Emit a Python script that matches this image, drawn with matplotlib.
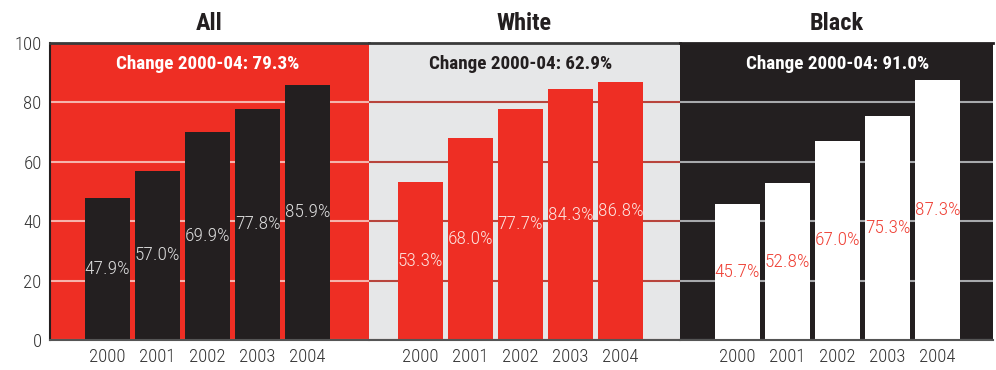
import os
import matplotlib
matplotlib.use("Agg")
import matplotlib.pyplot as plt
from matplotlib import font_manager as fm

years = ["2000", "2001", "2002", "2003", "2004"]
groups = ["All", "White", "Black"]
all_vals = [47.9, 57.0, 69.9, 77.8, 85.9]
white_vals = [53.3, 68.0, 77.7, 84.3, 86.8]
black_vals = [45.7, 52.8, 67.0, 75.3, 87.3]
changes = ["Change 2000-04: 79.3%", "Change 2000-04: 62.9%", "Change 2000-04: 91.0%"]

# look for a narrow / condensed font on the machine
files = [f.fname for f in fm.fontManager.ttflist]
reg = bold = light = None
for key in ["RobotoCondensed", "LiberationSansNarrow", "DejaVuSansCondensed",
            "OpenSansCondensed", "Condensed", "Narrow"]:
    hits = [p for p in files if key.lower() in os.path.basename(p).lower()
            and "italic" not in p.lower() and "oblique" not in p.lower()]
    names = [(p, os.path.basename(p).lower()) for p in hits]
    r = [p for p, n in names if "bold" not in n and "light" not in n]
    b = [p for p, n in names if n.split("-")[-1].startswith("bold")
         or "condensedbold" in n.replace("-", "") or "narrow-bold" in n]
    lt = [p for p, n in names if n.split("-")[-1].startswith("light")]
    if r:
        reg = r[0]
        bold = b[0] if b else r[0]
        light = lt[0] if lt else r[0]
        break

if reg:
    fp = fm.FontProperties(fname=light)
    fpb = fm.FontProperties(fname=bold)
    ls, ks, cs, ts = 14, 13.5, 13.8, 17.5
else:
    fp = fm.FontProperties(family="DejaVu Sans")
    fpb = fm.FontProperties(family="DejaVu Sans", weight="bold")
    ls, ks, cs, ts = 10, 10, 10.5, 15

red = "#ee2e24"
dark = "#231f20"
gray = "#e6e7e8"

# panel styles: background, bar, bar label, grid, change text
styles = [
    (red, dark, "#dcdcdc", "#f6b3ac", "white"),
    (gray, red, "#fde3df", "#b8453d", dark),
    (dark, "white", "#ef4136", "#a7a9ac", "white"),
]
# panel pixel bounds (left, right) and x limits
panels = [(50, 369, (-1.15, 5.23)), (369, 680, (-1.03, 5.19)), (680, 993, (-1.15, 5.11))]

W, H = 996, 370
fig = plt.figure(figsize=(W / 100, H / 100), dpi=100)
bottom, top = 340, 42.7

for i, vals in enumerate([all_vals, white_vals, black_vals]):
    l, r, xl = panels[i]
    bg, bc, lc, gc, tc = styles[i]
    ax = fig.add_axes([l / W, (H - bottom) / H, (r - l) / W, (bottom - top) / H])
    ax.set_facecolor(bg)
    x = range(len(years))
    ax.bar(x, vals, width=0.9, color=bc, zorder=2)
    for xi, v in zip(x, vals):
        ax.text(xi, v / 2, f"{v:.1f}%", ha="center", va="center", color=lc,
                fontproperties=fp, fontsize=ls, zorder=3)
    ax.text(2, 93, changes[i], ha="center", va="center", color=tc,
            fontproperties=fpb, fontsize=cs, zorder=3)
    ax.set_xlim(*xl)
    ax.set_ylim(0, 100)
    ax.set_yticks([0, 20, 40, 60, 80, 100])
    ax.set_xticks(list(x))
    ax.set_xticklabels(years)
    ax.grid(axis="y", color=gc, linewidth=1.5, zorder=1)
    ax.set_axisbelow(True)
    ax.tick_params(length=0, labelcolor="#333333", pad=6)
    for lab in ax.get_xticklabels() + ax.get_yticklabels():
        lab.set_fontproperties(fp)
        lab.set_fontsize(ks)
    ax.set_title(groups[i], fontproperties=fpb, fontsize=ts, color=dark, pad=9)
    ax.spines["right"].set_visible(False)
    ax.spines["left"].set_visible(i == 0)
    ax.spines["left"].set_color(dark)
    ax.spines["left"].set_linewidth(1.5)
    ax.spines["top"].set_color("#3a3a3a" if i < 2 else dark)
    ax.spines["top"].set_linewidth(2)
    ax.spines["bottom"].set_color("#555555")
    ax.spines["bottom"].set_linewidth(1.5)
    if i > 0:
        ax.set_yticklabels([])

fig.savefig("out.png", dpi=100)
